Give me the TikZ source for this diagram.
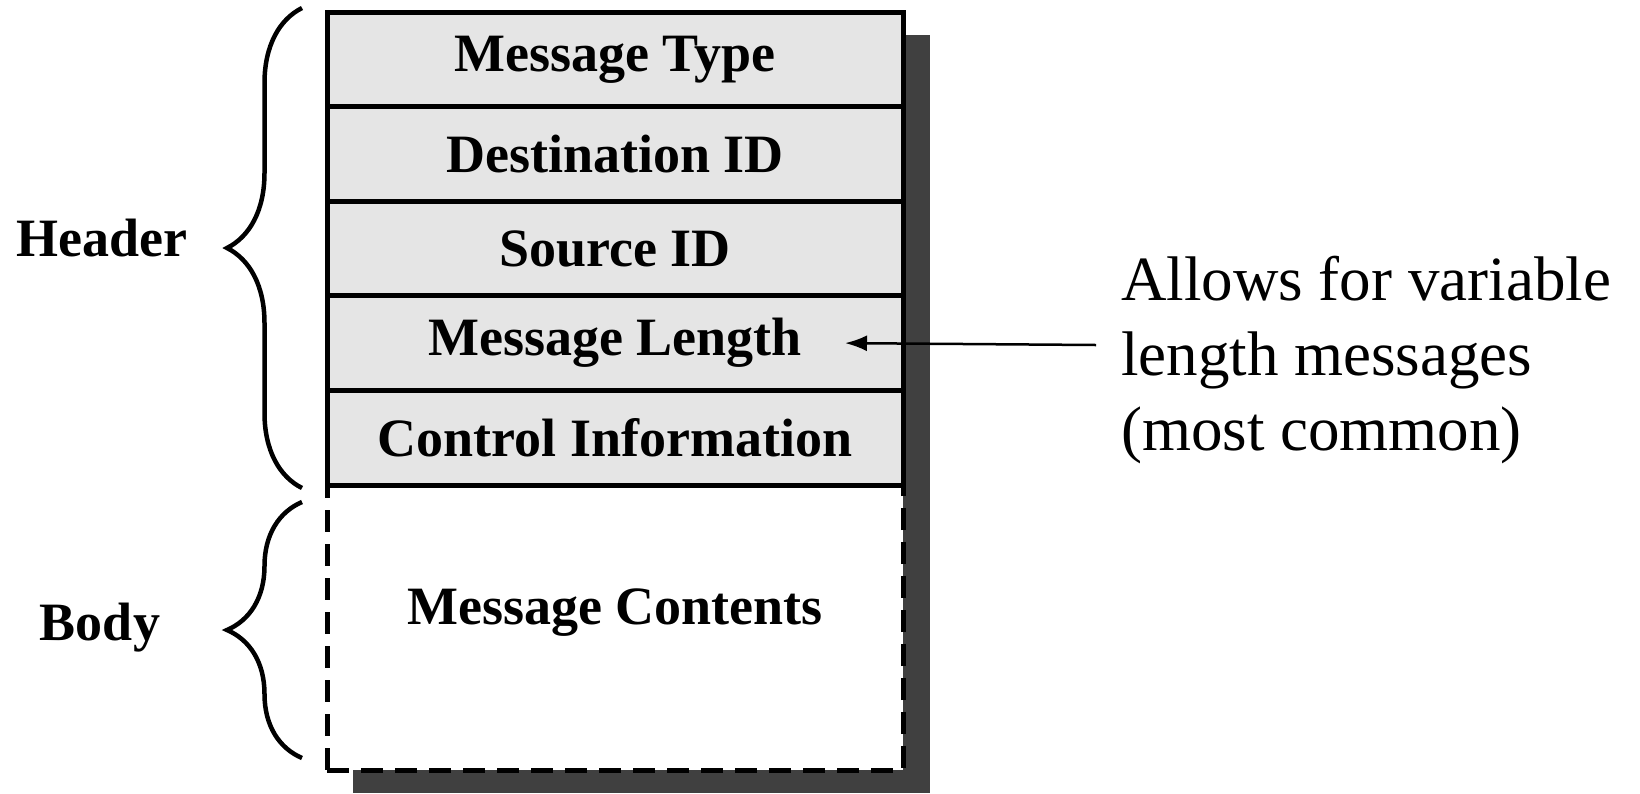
\documentclass[tikz,border=0pt]{standalone}
\usepackage{fontspec}
\setmainfont{Liberation Serif}
\usepackage{tikz}
\usetikzlibrary{
    positioning,
    arrows.meta,
    decorations.pathreplacing
}
\definecolor{cellgray}{RGB}{229, 229, 229}
\definecolor{shadowgray}{RGB}{64, 64, 64}
\tikzstyle{field} = [
    rectangle,
    draw=black,
    line width=5pt,
    fill=cellgray,
    minimum width=576pt,
    minimum height=94.6pt,
    inner sep=0pt,
    outer sep=0pt,
    font=\fontsize{54}{60}\selectfont\bfseries
]
\tikzstyle{arrow} = [
    -{Latex[length=22pt,width=16pt]},
    line width=2.5pt
]

\begin{document}
\begin{tikzpicture}[
    x=1pt, y=-1pt,
    bodyfield/.style={field, fill=white, dash pattern=on 22pt off 12pt, minimum height=285pt, text depth=42pt},
    curly/.style={decorate, decoration={brace, amplitude=75pt}, line width=4.5pt},
    sidelabel/.style={font=\fontsize{54}{60}\selectfont\bfseries},
    note/.style={align=left, inner sep=0pt, font=\fontsize{63}{75}\selectfont}
]
    \useasboundingbox (0,0) rectangle (1640,793);

    % Drop shadow
    \fill[shadowgray] (353,35) rectangle (930,793);

    % Body
    \node[bodyfield, anchor=south west] (contents) at (327,770) {Message Contents};

    % Header fields
    \node[field, above=0pt of contents] (ctrl) {Control Information};
    \node[field, above=0pt of ctrl] (len) {Message Length};
    \node[field, above=0pt of len] (src) {Source ID};
    \node[field, above=0pt of src] (dest) {Destination ID};
    \node[field, above=0pt of dest] (mtype) {Message Type};

    % Braces and labels
    \draw[curly] (302,488) -- (302,8);
    \node[sidelabel] (header) at (102,238) {Header};
    \draw[curly] (302,758) -- (302,502);
    \node[sidelabel] (body) at (100,628) {Body};

    % Note
    \node[note, anchor=west] (note) at (1121,360) {Allows for variable\\length messages\\(most common)};

    % Arrows
    \draw[arrow] ([shift={(-25,-15)}]note.west) -- ([xshift=230pt]len.center);

\end{tikzpicture}
\end{document}
